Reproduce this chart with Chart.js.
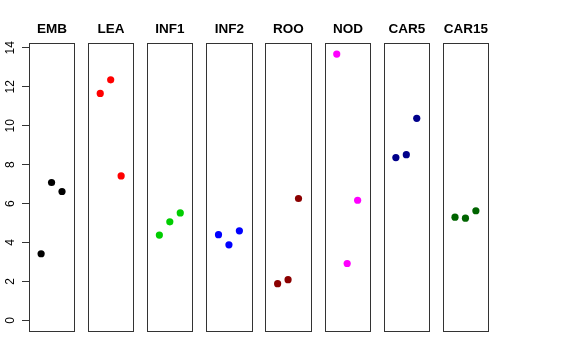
<!DOCTYPE html>
<html>
<head>
<meta charset="utf-8">
<script src="https://cdn.jsdelivr.net/npm/chart.js@4/dist/chart.umd.min.js"></script>
<style>
  html, body { margin: 0; padding: 0; background: #fff; }
  #wrap { width: 576px; height: 360px; }
</style>
</head>
<body>
<div id="wrap"><canvas id="c" width="576" height="360"></canvas></div>
<script>
// panel names, left to right
const panels = ["EMB", "LEA", "INF1", "INF2", "ROO", "NOD", "CAR5", "CAR15"];
const colors = ["#000000", "#FF0000", "#00CD00", "#0000FF", "#8B0000", "#FF00FF", "#00008B", "#006400"];

// three readings per panel
const emb = [3.42, 7.08, 6.62];
const lea = [11.66, 12.36, 7.42];
const inf1 = [4.38, 5.06, 5.52];
const inf2 = [4.4, 3.88, 4.6];
const roo = [1.88, 2.09, 6.26];
const nod = [13.68, 2.92, 6.17];
const car5 = [8.36, 8.51, 10.38];
const car15 = [5.3, 5.25, 5.63];
const values = [emb, lea, inf1, inf2, roo, nod, car5, car15];

const yTicks = [0, 2, 4, 6, 8, 10, 12, 14];

// each panel is its own little x range [-0.16, 4.16], panels placed side by side
const xLo = -0.16, xHi = 4.16, pitch = 5.66;

const datasets = values.map((vals, i) => ({
    label: panels[i],
    data: vals.map((v, j) => ({ x: i * pitch + j + 1, y: v })),
    backgroundColor: colors[i],
    borderColor: colors[i],
    pointRadius: 3.6,
    pointBorderWidth: 0,
    showLine: false
}));

const panelBoxes = {
    id: "panelBoxes",
    afterDatasetsDraw(chart) {
        const ctx = chart.ctx;
        const xs = chart.scales.x, ys = chart.scales.y;
        const top = Math.round(ys.getPixelForValue(ys.max)) + 0.5;
        const bot = Math.round(ys.getPixelForValue(ys.min)) + 0.5;
        ctx.save();
        panels.forEach((name, i) => {
            const l = Math.round(xs.getPixelForValue(i * pitch + xLo)) + 0.5;
            const r = Math.round(xs.getPixelForValue(i * pitch + xHi)) + 0.5;
            ctx.strokeStyle = "#333";
            ctx.lineWidth = 1;
            ctx.strokeRect(l, top, r - l, bot - top);
            ctx.fillStyle = "#000";
            ctx.font = "bold 13.5px 'Liberation Sans', Arial, sans-serif";
            ctx.textAlign = "center";
            ctx.textBaseline = "middle";
            ctx.fillText(name, (l + r) / 2, 29);
        });
        ctx.restore();
    }
};

new Chart(document.getElementById("c"), {
    type: "scatter",
    data: { datasets: datasets },
    options: {
        responsive: false,
        animation: false,
        layout: { padding: { left: 0, right: 88, top: 43, bottom: 29 } },
        plugins: { legend: { display: false }, tooltip: { enabled: false } },
        scales: {
            x: {
                type: "linear",
                display: false,
                min: xLo,
                max: (panels.length - 1) * pitch + xHi
            },
            y: {
                type: "linear",
                min: -0.55,
                max: 14.25,
                afterBuildTicks: (s) => { s.ticks = yTicks.map(v => ({ value: v })); },
                afterFit: (s) => { s.width = 29; },
                border: { display: false },
                grid: { drawOnChartArea: false, tickLength: 7, color: "#333", tickColor: "#333" },
                ticks: {
                    minRotation: 90,
                    crossAlign: "center",
                    padding: 5,
                    color: "#000",
                    font: { family: "'Liberation Sans', Arial, sans-serif", size: 12 }
                }
            }
        }
    },
    plugins: [panelBoxes]
});
</script>
</body>
</html>
